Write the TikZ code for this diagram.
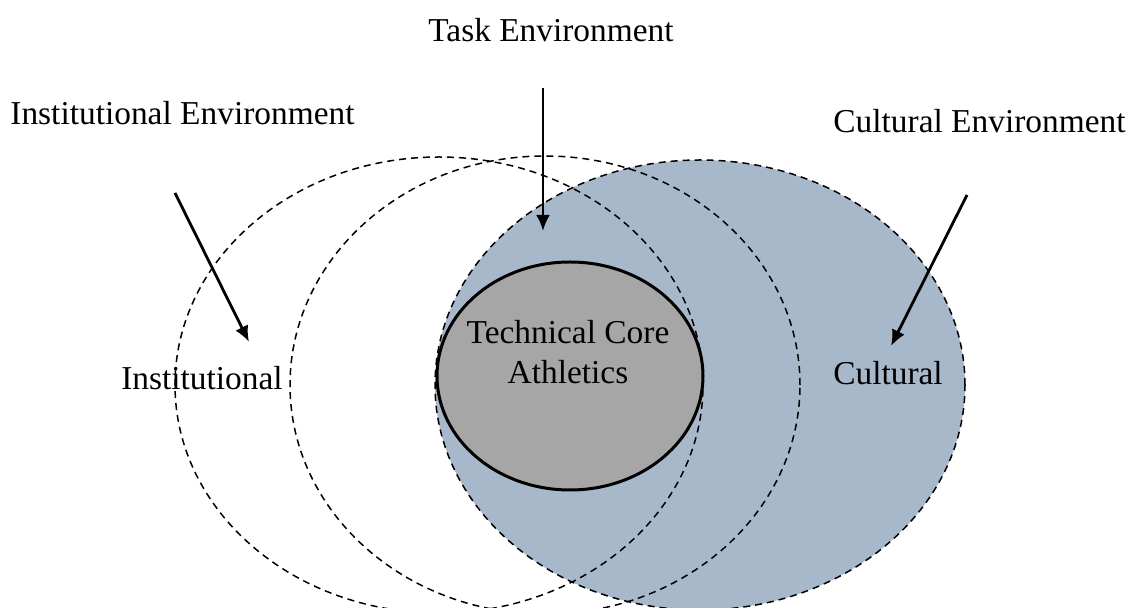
\documentclass[tikz,border=0pt]{standalone}
\usepackage{fontspec}
\setmainfont{Liberation Serif}
\usetikzlibrary{shapes.geometric,arrows.meta}
\definecolor{envblue}{HTML}{A8B8CB}
\definecolor{coregrey}{HTML}{A6A6A6}
\begin{document}
\begin{tikzpicture}[x=0.5pt,y=-0.5pt,
  ring/.style={ellipse, draw=black, dash pattern=on 3.5pt off 2.5pt, line width=0.75pt, inner sep=0pt, outer sep=0pt},
  txt/.style={font=\fontsize{16.7}{20}\selectfont, inner sep=0pt, text=black},
  force/.style={-{Latex[length=8pt,width=7pt]}, line width=1.4pt}
]
\useasboundingbox (0,0) rectangle (1136,608);
\clip (0,0) rectangle (1136,608);
% filled cultural ellipse
\node[ring, fill=envblue, minimum width=265pt, minimum height=225pt] (cult) at (700,385) {};
\node[ring, minimum width=264pt, minimum height=228pt] (inst) at (439,385) {};
\node[ring, minimum width=255pt, minimum height=229pt] (task) at (545,385) {};
% technical core
\node[ellipse, draw=black, line width=1.5pt, fill=coregrey, inner sep=0pt, minimum width=133pt, minimum height=114pt] (core) at (570,376) {};
\node[txt, align=center] (coretxt) at (568,352) {Technical Core\\Athletics};
% labels
\node[txt, anchor=base west] (instenv) at (10,125) {Institutional Environment};
\node[txt, anchor=base west] (cultenv) at (833,133) {Cultural Environment};
\node[txt, anchor=base] (taskenv) at (551,42) {Task Environment};
\node[txt, anchor=base] (instlab) at (202,390) {Institutional};
\node[txt, anchor=base] (cultlab) at (888,385) {Cultural};
% arrows
\coordinate (ia) at (175,193);
\coordinate (ib) at (249,342);
\coordinate (ta) at (543,88);
\coordinate (tb) at (543,231);
\coordinate (ca) at (967,195);
\coordinate (cb) at (891,346);
\draw[force] (ia) -- (ib);
\draw[force] (ta) -- (tb);
\draw[force] (ca) -- (cb);
\end{tikzpicture}
\end{document}
